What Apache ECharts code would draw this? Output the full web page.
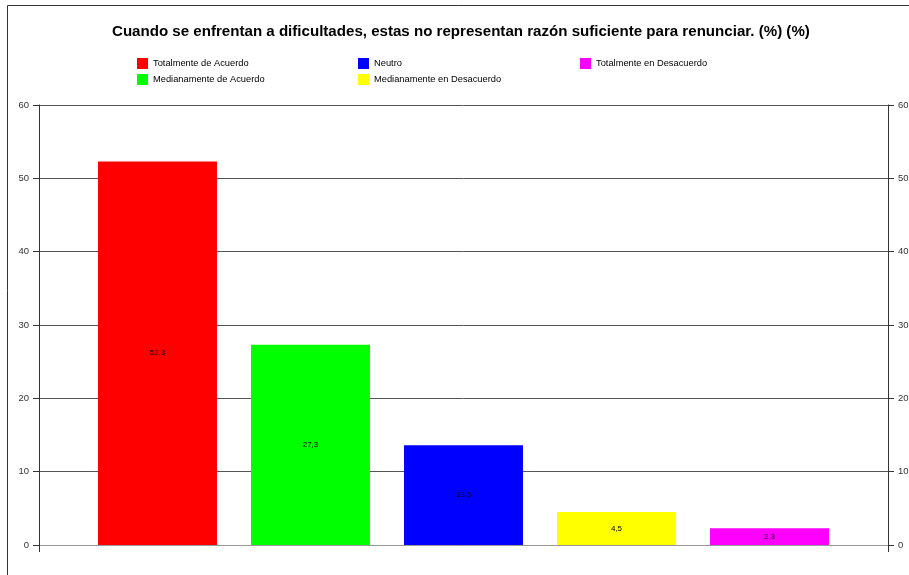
<!DOCTYPE html>
<html>
<head>
<meta charset="utf-8">
<script src="https://cdn.jsdelivr.net/npm/echarts@6/dist/echarts.min.js"></script>
<style>html,body{margin:0;padding:0;background:#fff}#c{width:909px;height:575px}</style>
</head>
<body>
<div id="c"></div>
<script>
const titleText = 'Cuando se enfrentan a dificultades, estas no representan razón suficiente para renunciar. (%) (%)';
const seriesNames = ['Totalmente de Acuerdo', 'Medianamente de Acuerdo', 'Neutro', 'Medianamente en Desacuerdo', 'Totalmente en Desacuerdo'];
const seriesValues = [52.3, 27.3, 13.6, 4.5, 2.3];
const seriesColors = ['#ff0000', '#00ff00', '#0000ff', '#ffff00', '#ff00ff'];
const yTicks = [0, 10, 20, 30, 40, 50, 60];

const chart = echarts.init(document.getElementById('c'), null, {renderer: 'canvas'});
const font = 'Liberation Sans, Arial, sans-serif';
const legendCols = [[0, 1], [2, 3], [4]];
const legendLeft = [137, 358, 580];

const yAxisBase = {
  type: 'value', min: yTicks[0], max: yTicks[yTicks.length - 1], interval: 10,
  axisLine: {show: true, lineStyle: {color: '#333', width: 1}},
  axisTick: {show: true, inside: false, length: 6, lineStyle: {color: '#333'}},
  axisLabel: {fontFamily: font, fontSize: 9.5, color: '#333', margin: 10}
};

chart.setOption({
  backgroundColor: '#fff',
  animation: false,
  title: {
    text: titleText, left: 112, top: 24, padding: 0,
    textStyle: {fontFamily: font, fontSize: 15.1, fontWeight: 'bold', color: '#000'}
  },
  legend: legendCols.map((col, i) => ({
    data: col.map(k => seriesNames[k]),
    orient: 'vertical', left: legendLeft[i], top: 58, padding: 0,
    itemWidth: 11, itemHeight: 11, itemGap: 5, icon: 'rect',
    selectedMode: false,
    textStyle: {fontFamily: font, fontSize: 9.3, color: '#000'}
  })),
  grid: {left: 39, right: 21, top: 105, bottom: 30, containLabel: false, outerBoundsMode: 'none'},
  xAxis: {
    type: 'category', data: [''],
    axisLine: {show: true, lineStyle: {color: '#999'}},
    axisTick: {show: true, length: 7, lineStyle: {color: '#333'}},
    axisLabel: {show: false}
  },
  yAxis: [
    Object.assign({}, yAxisBase, {position: 'left', splitLine: {show: true, lineStyle: {color: '#555', width: 1}}}),
    Object.assign({}, yAxisBase, {position: 'right', splitLine: {show: false}})
  ],
  series: seriesNames.map((n, i) => ({
    name: n, type: 'bar', data: [seriesValues[i]],
    barGap: '28.6%', barCategoryGap: '13.9%',
    itemStyle: {color: seriesColors[i]},
    label: {
      show: true, position: 'inside', fontFamily: font, fontSize: 8, color: '#000',
      formatter: p => p.value.toFixed(1).replace('.', ',')
    }
  })),
  graphic: [{
    type: 'rect', silent: true,
    shape: {x: 7.5, y: 5.5, width: 940, height: 620},
    style: {fill: 'none', stroke: '#333', lineWidth: 1}
  }]
});
</script>
</body>
</html>
